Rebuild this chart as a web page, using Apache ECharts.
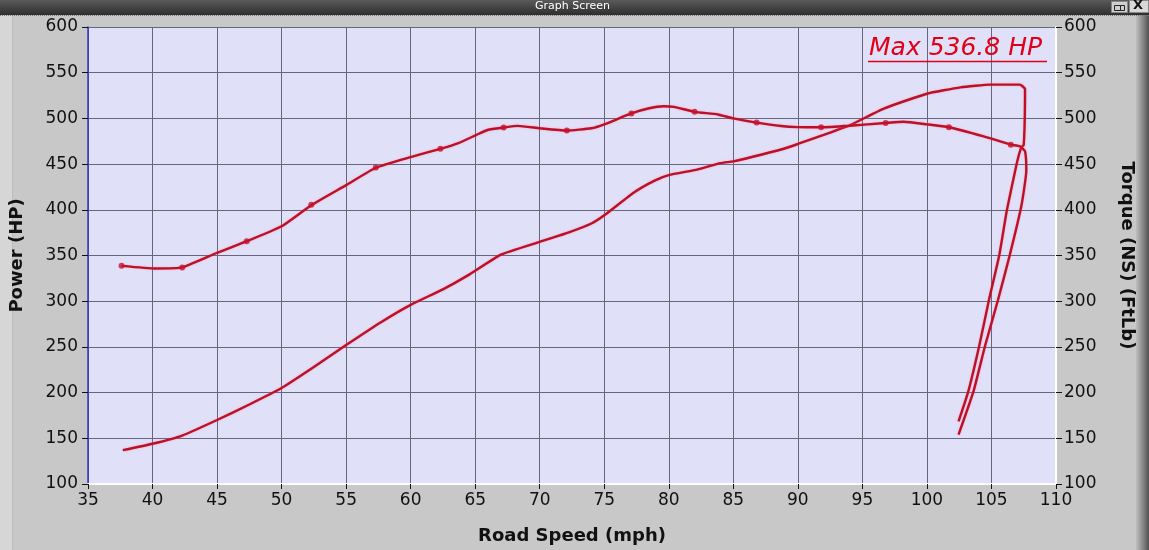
<!DOCTYPE html>
<html>
<head>
<meta charset="utf-8">
<script src="https://cdn.jsdelivr.net/npm/echarts@6/dist/echarts.min.js"></script>
<style>
html,body{margin:0;padding:0;background:#c8c8c8;}
#chart{width:1149px;height:550px;}
</style>
</head>
<body>
<div id="chart"></div>
<script>
// ---- data ----
const xTicks = [35, 110, 5];          // min, max, step (mph)
const yTicks = [100, 600, 50];        // min, max, step
const maxLabel = 'Max 536.8 HP';

// Power (HP) vs road speed, including the coast-down tail
const powerX = [37.7, 40, 42.3, 45, 47.5, 50, 52.5, 55, 57.7, 60, 62.5, 64.4, 67, 70, 72.2, 74, 75, 77.3, 78.9, 80, 82.2, 84, 85, 86.5, 88.7, 90, 92, 94.1, 96.7, 100, 102.6, 104.9, 107.2, 107.6, 107.5, 107.3, 106.95, 106.2, 105.6, 104.8, 104.05, 103.2, 102.45];
const powerY = [137, 144, 153, 170, 187, 205, 228, 252, 277, 296, 313, 328, 351, 365, 375, 385, 394, 419, 432, 438, 444, 451, 453, 458, 466, 472, 482, 493, 511, 527, 534, 537, 537, 532, 471, 468, 450, 400, 350, 301, 251, 201, 168.5];

// Torque (FtLb) vs road speed, including the coast-down tail
const torqueX = [37.6, 40.2, 42.3, 45, 47.3, 50, 52.3, 55, 57.3, 60, 62.3, 63.7, 65.1, 66, 67.2, 68.3, 70, 72.1, 74, 75, 77.1, 78.4, 79.6, 80.4, 82, 83.8, 85, 86.8, 88.7, 90, 91.8, 94, 96.8, 98.2, 100, 101.7, 104.4, 106.5, 107.2, 107.6, 107.7, 107.3, 106.4, 105.5, 104.5, 103.6, 102.45];
const torqueY = [338.7, 335.8, 337, 353, 365.6, 382, 405, 427, 446, 457.7, 466.7, 473, 482, 487.6, 490, 491.8, 489.2, 486.7, 489.2, 493.5, 505.4, 510.8, 513.3, 512.6, 507.2, 504.3, 500, 495.4, 491.7, 490.5, 490.3, 492, 495, 496.4, 493.5, 490.3, 480.3, 471.3, 469.5, 464, 443, 403, 349.5, 301, 251, 201, 154];

// dots drawn on the torque trace
const dotX = [37.6, 42.3, 47.3, 52.3, 57.3, 62.3, 67.2, 72.1, 77.1, 82, 86.8, 91.8, 96.8, 101.7, 106.5];
const dotY = [338.7, 337, 365.6, 405.4, 446.2, 466.7, 490, 486.7, 505.4, 507.2, 495.4, 490.3, 495, 490.3, 471.3];

const zip = (a, b) => a.map((v, i) => [v, b[i]]);

const chart = echarts.init(document.getElementById('chart'), null, {renderer: 'canvas'});
const FONT = 'DejaVu Sans';
const RED = '#bc1028';
const GRIDC = '#66667e';
const lineStyle = {color: RED, width: 2.4, shadowColor: 'rgba(255,110,130,0.5)', shadowBlur: 2};

const yAxisBase = {
  type: 'value', min: yTicks[0], max: yTicks[1], interval: yTicks[2],
  nameLocation: 'middle', nameGap: 62,
  nameTextStyle: {fontFamily: FONT, fontWeight: 'bold', fontSize: 18, color: '#111'},
  axisTick: {show: true, length: 6, lineStyle: {color: '#111'}},
  axisLabel: {fontFamily: FONT, fontSize: 17, color: '#111'}
};

chart.setOption({
  backgroundColor: '#c8c8c8',
  animation: false,
  grid: {left: 86, right: 93, top: 27, bottom: 58, show: true, backgroundColor: '#e0e0f8', borderWidth: 0},
  xAxis: {
    type: 'value', min: xTicks[0], max: xTicks[1], interval: xTicks[2],
    name: 'Road Speed (mph)', nameLocation: 'middle', nameGap: 43,
    nameTextStyle: {fontFamily: FONT, fontWeight: 'bold', fontSize: 18, color: '#111'},
    axisLine: {show: true, lineStyle: {color: '#ffffff', width: 2}},
    axisTick: {show: true, length: 5, lineStyle: {color: '#111'}},
    axisLabel: {fontFamily: FONT, fontSize: 17, color: '#111', margin: 8},
    splitLine: {show: true, lineStyle: {color: GRIDC, width: 1}}
  },
  yAxis: [
    Object.assign({}, yAxisBase, {
      position: 'left', name: 'Power (HP)', nameRotate: 90,
      axisLine: {show: true, lineStyle: {color: '#3434d0', width: 1.5}},
      axisLabel: Object.assign({}, yAxisBase.axisLabel, {margin: 10}),
      splitLine: {show: true, lineStyle: {color: GRIDC, width: 1}}
    }),
    Object.assign({}, yAxisBase, {
      position: 'right', name: 'Torque (NS) (FtLb)', nameRotate: -90,
      axisLine: {show: true, lineStyle: {color: '#ffffff', width: 2}},
      axisLabel: Object.assign({}, yAxisBase.axisLabel, {margin: 8}),
      splitLine: {show: false}
    })
  ],
  series: [
    {name: 'Power', type: 'line', yAxisIndex: 0, data: zip(powerX, powerY), smooth: 0.15, showSymbol: false, lineStyle: lineStyle, z: 3},
    {name: 'Torque', type: 'line', yAxisIndex: 1, data: zip(torqueX, torqueY), smooth: 0.15, showSymbol: false, lineStyle: lineStyle, z: 3},
    {name: 'TorqueDots', type: 'scatter', yAxisIndex: 1, data: zip(dotX, dotY), symbol: 'circle', symbolSize: 6, itemStyle: {color: '#c8102a'}, z: 4}
  ],
  graphic: [
    // left light strip
    {type: 'rect', left: 0, top: 15, shape: {width: 13, height: 535}, style: {fill: '#d6d6d6'}, z: -10},
    {type: 'rect', left: 12, top: 15, shape: {width: 1, height: 535}, style: {fill: '#bcbcbc'}, z: -10},
    // right dark strip
    {type: 'rect', left: 1136, top: 15, shape: {width: 13, height: 535},
      style: {fill: new echarts.graphic.LinearGradient(0, 0, 1, 0, [{offset: 0, color: '#c0c0c0'}, {offset: 0.5, color: '#8a8a8a'}, {offset: 1, color: '#505050'}])}, z: -10},
    // title bar
    {type: 'rect', left: 0, top: 0, shape: {width: 1149, height: 15},
      style: {fill: new echarts.graphic.LinearGradient(0, 0, 0, 1, [{offset: 0, color: '#5a5a5a'}, {offset: 1, color: '#2e2e2e'}])}, z: 10},
    {type: 'line', shape: {x1: 0, y1: 15.5, x2: 1149, y2: 15.5}, style: {stroke: '#7a7a7a', lineWidth: 1, lineDash: [1, 1]}, z: 10},
    {type: 'text', left: 535, top: 1, style: {text: 'Graph Screen', fill: '#ffffff', font: '11px "DejaVu Sans"'}, z: 11},
    // window buttons
    {type: 'rect', left: 1111, top: 1, shape: {width: 16, height: 11}, style: {fill: '#cfcfcf', stroke: '#888', lineWidth: 1}, z: 11},
    {type: 'rect', left: 1116, top: 3, shape: {width: 6, height: 5}, style: {fill: 'none', stroke: '#222', lineWidth: 1}, z: 12},
    {type: 'rect', left: 1114, top: 5, shape: {width: 6, height: 5}, style: {fill: '#cfcfcf', stroke: '#222', lineWidth: 1}, z: 12},
    {type: 'rect', left: 1129, top: 0, shape: {width: 19, height: 12}, style: {fill: '#d8d8d8', stroke: '#888', lineWidth: 1}, z: 11},
    {type: 'text', left: 1133, top: -1, style: {text: 'X', fill: '#111', font: 'bold 13px "DejaVu Sans"'}, z: 12},
    // Max HP annotation
    {type: 'text', left: 869, top: 36, style: {text: maxLabel, fill: '#e00018', font: 'italic 25px "DejaVu Sans"'}, z: 12},
    {type: 'line', shape: {x1: 868, y1: 61.5, x2: 1047, y2: 61.5}, style: {stroke: '#e00018', lineWidth: 1.5}, z: 12}
  ]
});
</script>
</body>
</html>
